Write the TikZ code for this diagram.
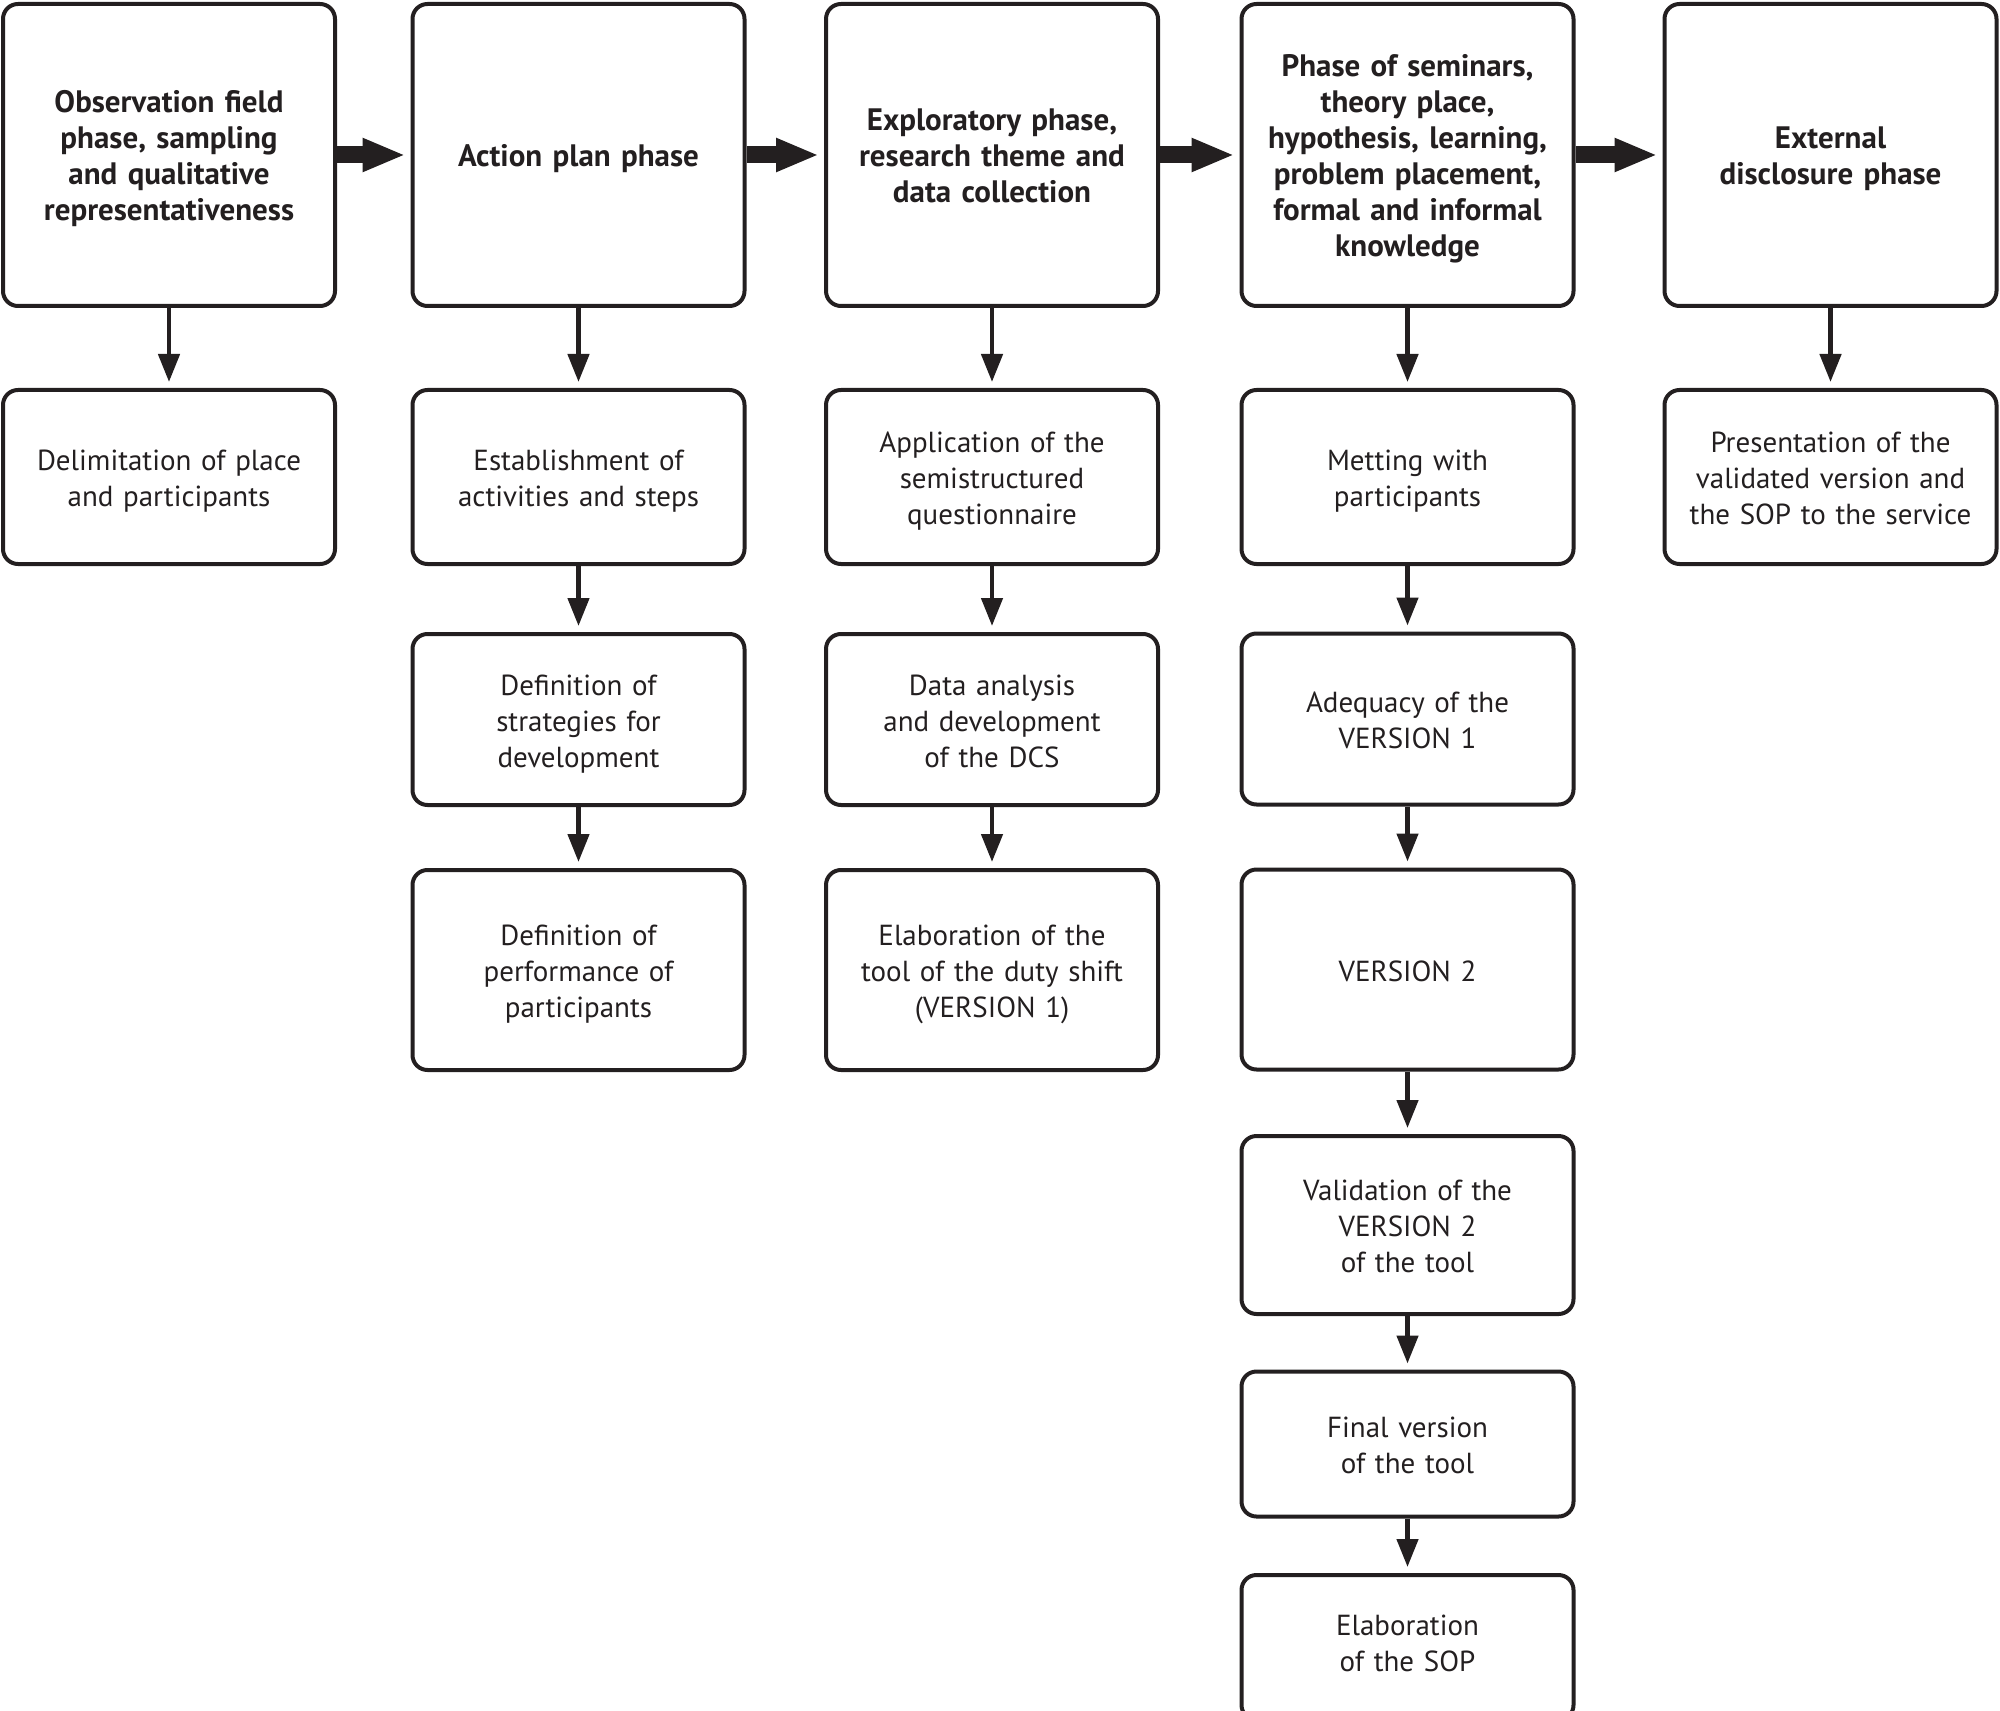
\documentclass[tikz,border=0pt]{standalone}
\usepackage{fontspec}
\setmainfont{PT Sans}
\usetikzlibrary{arrows.meta}
\definecolor{ink}{RGB}{35,31,32}
\begin{document}
\begin{tikzpicture}[x=0.5pt,y=-0.5pt,
  box/.style={draw=ink, text=ink, line width=2pt, rounded corners=7.5pt,
    minimum width=166pt, align=center, inner sep=0pt, text width=162pt,
    font=\fontsize{14.5}{18}\selectfont,
    execute at begin node={\rule{0pt}{15.8pt}},
    execute at end node={\rule[-4pt]{0pt}{4pt}}},
  phase/.style={box, minimum height=151pt, font=\bfseries\fontsize{15.5}{18}\selectfont},
  down/.style={draw=ink, line width=2.3pt, shorten >=3pt, -{Triangle[length=14pt,width=10.5pt]}},
  big/.style={draw=ink, line width=8.5pt, shorten >=2.5pt, -{Triangle[length=21.5pt,width=15.5pt]}}]
\clip (0,0) rectangle (2000,1711);
% phase boxes
\node[phase] (p1) at (169,155) {Observation field\\phase, sampling\\and qualitative\\representativeness};
\node[phase] (p2) at (578.5,155) {Action plan phase};
\node[phase] (p3) at (992,155) {Exploratory phase,\\research theme and\\data collection};
\node[phase] (p4) at (1407.5,155) {Phase of seminars,\\theory place,\\hypothesis, learning,\\problem placement,\\formal and informal\\knowledge};
\node[phase] (p5) at (1830.5,155) {External\\disclosure phase};
% column 1
\node[box, minimum height=87pt] (a1) at (169,477) {Delimitation of place\\and participants};
% column 2
\node[box, minimum height=87pt] (b1) at (578.5,477) {Establishment of\\activities and steps};
\node[box, minimum height=85.5pt] (b2) at (578.5,719.5) {Definition of\\strategies for\\development};
\node[box, minimum height=100pt] (b3) at (578.5,970) {Definition of\\performance of\\participants};
% column 3
\node[box, minimum height=87pt] (c1) at (992,477) {Application of the\\semistructured\\questionnaire};
\node[box, minimum height=85.5pt] (c2) at (992,719.5) {Data analysis\\and development\\of the DCS};
\node[box, minimum height=100pt] (c3) at (992,970) {Elaboration of the\\tool of the duty shift\\(VERSION 1)};
% column 4
\node[box, minimum height=87pt] (d1) at (1407.5,477) {Metting with\\participants};
\node[box, minimum height=85.5pt] (d2) at (1407.5,719) {Adequacy of the\\VERSION 1};
\node[box, minimum height=100pt] (d3) at (1407.5,969.5) {VERSION 2};
\node[box, minimum height=89pt] (d4) at (1407.5,1225) {Validation of the\\VERSION 2\\of the tool};
\node[box, minimum height=72.5pt] (d5) at (1407.5,1444) {Final version\\of the tool};
\node[box, minimum height=72.5pt, execute at end node={\rule[-9.5pt]{0pt}{9.5pt}}] (d6) at (1407.5,1647.5) {Elaboration\\of the SOP};
% column 5
\node[box, minimum height=87pt] (e1) at (1830.5,477) {Presentation of the\\validated version and\\the SOP to the service};
% big arrows
\draw[big] (p1.east) -- (p2.west);
\draw[big] (p2.east) -- (p3.west);
\draw[big] (p3.east) -- (p4.west);
\draw[big] (p4.east) -- (p5.west);
% down arrows
\draw[down] (p1.south) -- (a1.north);
\draw[down] (p2.south) -- (b1.north);
\draw[down] (b1.south) -- (b2.north);
\draw[down] (b2.south) -- (b3.north);
\draw[down] (p3.south) -- (c1.north);
\draw[down] (c1.south) -- (c2.north);
\draw[down] (c2.south) -- (c3.north);
\draw[down] (p4.south) -- (d1.north);
\draw[down] (d1.south) -- (d2.north);
\draw[down] (d2.south) -- (d3.north);
\draw[down] (d3.south) -- (d4.north);
\draw[down] (d4.south) -- (d5.north);
\draw[down] (d5.south) -- (d6.north);
\draw[down] (p5.south) -- (e1.north);
\end{tikzpicture}
\end{document}
